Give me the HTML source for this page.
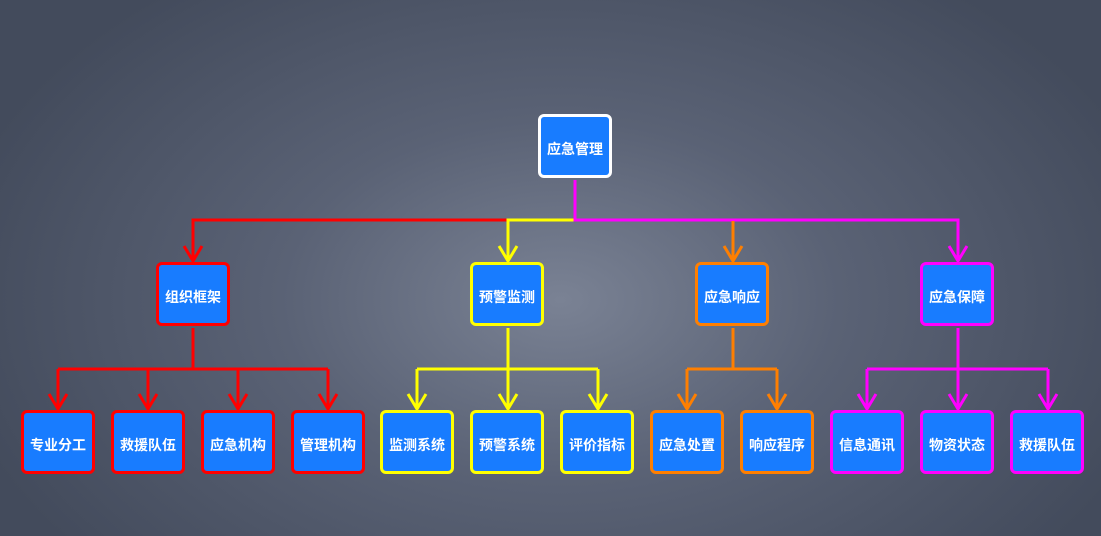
<!DOCTYPE html>
<html><head><meta charset="utf-8"><style>
html,body{margin:0;padding:0}
body{width:1101px;height:536px;overflow:hidden;position:relative;
background:radial-gradient(ellipse 620px 400px at 560px 300px,#7a8294 0%,#5a6275 45%,#434b5c 100%);
font-family:"Liberation Sans","Noto Sans CJK SC",sans-serif;}
.b{position:absolute;width:68px;height:58px;border:3px solid;border-radius:6px;background:#187cff;color:#fff;font-weight:bold;font-size:14px;display:flex;align-items:center;justify-content:center;box-sizing:content-box;padding-top:0;line-height:1}
.b span{position:relative;top:3px}
svg{position:absolute;left:0;top:0}
</style></head><body>
<svg width="1101" height="536" fill="none" stroke-width="3">
<g stroke="#ff0000">
<path d="M508 220H193V261M193 328V369M58 369H328M58 369V409M148 369V409M238 369V409M328 369V409"/>
<path d="M184 246l9 15l9-15M49 394l9 15l9-15M139 394l9 15l9-15M229 394l9 15l9-15M319 394l9 15l9-15"/>
</g>
<g stroke="#ffff00">
<path d="M575 220H508V261M508 328V409M417 369H598M417 369V409M598 369V409"/>
<path d="M499 246l9 15l9-15M408 394l9 15l9-15M499 394l9 15l9-15M589 394l9 15l9-15"/>
</g>
<g stroke="#ff00ff">
<path d="M575 180V220H958V261M958 328V409M867 369H1048M867 369V409M1048 369V409"/>
<path d="M949 246l9 15l9-15M858 394l9 15l9-15M949 394l9 15l9-15M1039 394l9 15l9-15"/>
</g>
<g stroke="#ff7f00">
<path d="M733 221V261M733 328V369M687 369H777M687 369V409M777 369V409"/>
<path d="M724 246l9 15l9-15M678 394l9 15l9-15M768 394l9 15l9-15"/>
</g>
</svg>
<div class="b" style="left:538px;top:114px;border-color:#fff"><span>应急管理</span></div>
<div class="b" style="left:156px;top:262px;border-color:#f00"><span>组织框架</span></div>
<div class="b" style="left:470px;top:262px;border-color:#ff0"><span>预警监测</span></div>
<div class="b" style="left:695px;top:262px;border-color:#ff7f00"><span>应急响应</span></div>
<div class="b" style="left:920px;top:262px;border-color:#f0f"><span>应急保障</span></div>
<div class="b" style="left:21px;top:410px;border-color:#f00"><span>专业分工</span></div>
<div class="b" style="left:111px;top:410px;border-color:#f00"><span>救援队伍</span></div>
<div class="b" style="left:201px;top:410px;border-color:#f00"><span>应急机构</span></div>
<div class="b" style="left:291px;top:410px;border-color:#f00"><span>管理机构</span></div>
<div class="b" style="left:380px;top:410px;border-color:#ff0"><span>监测系统</span></div>
<div class="b" style="left:470px;top:410px;border-color:#ff0"><span>预警系统</span></div>
<div class="b" style="left:560px;top:410px;border-color:#ff0"><span>评价指标</span></div>
<div class="b" style="left:650px;top:410px;border-color:#ff7f00"><span>应急处置</span></div>
<div class="b" style="left:740px;top:410px;border-color:#ff7f00"><span>响应程序</span></div>
<div class="b" style="left:830px;top:410px;border-color:#f0f"><span>信息通讯</span></div>
<div class="b" style="left:920px;top:410px;border-color:#f0f"><span>物资状态</span></div>
<div class="b" style="left:1010px;top:410px;border-color:#f0f"><span>救援队伍</span></div>
</body></html>
